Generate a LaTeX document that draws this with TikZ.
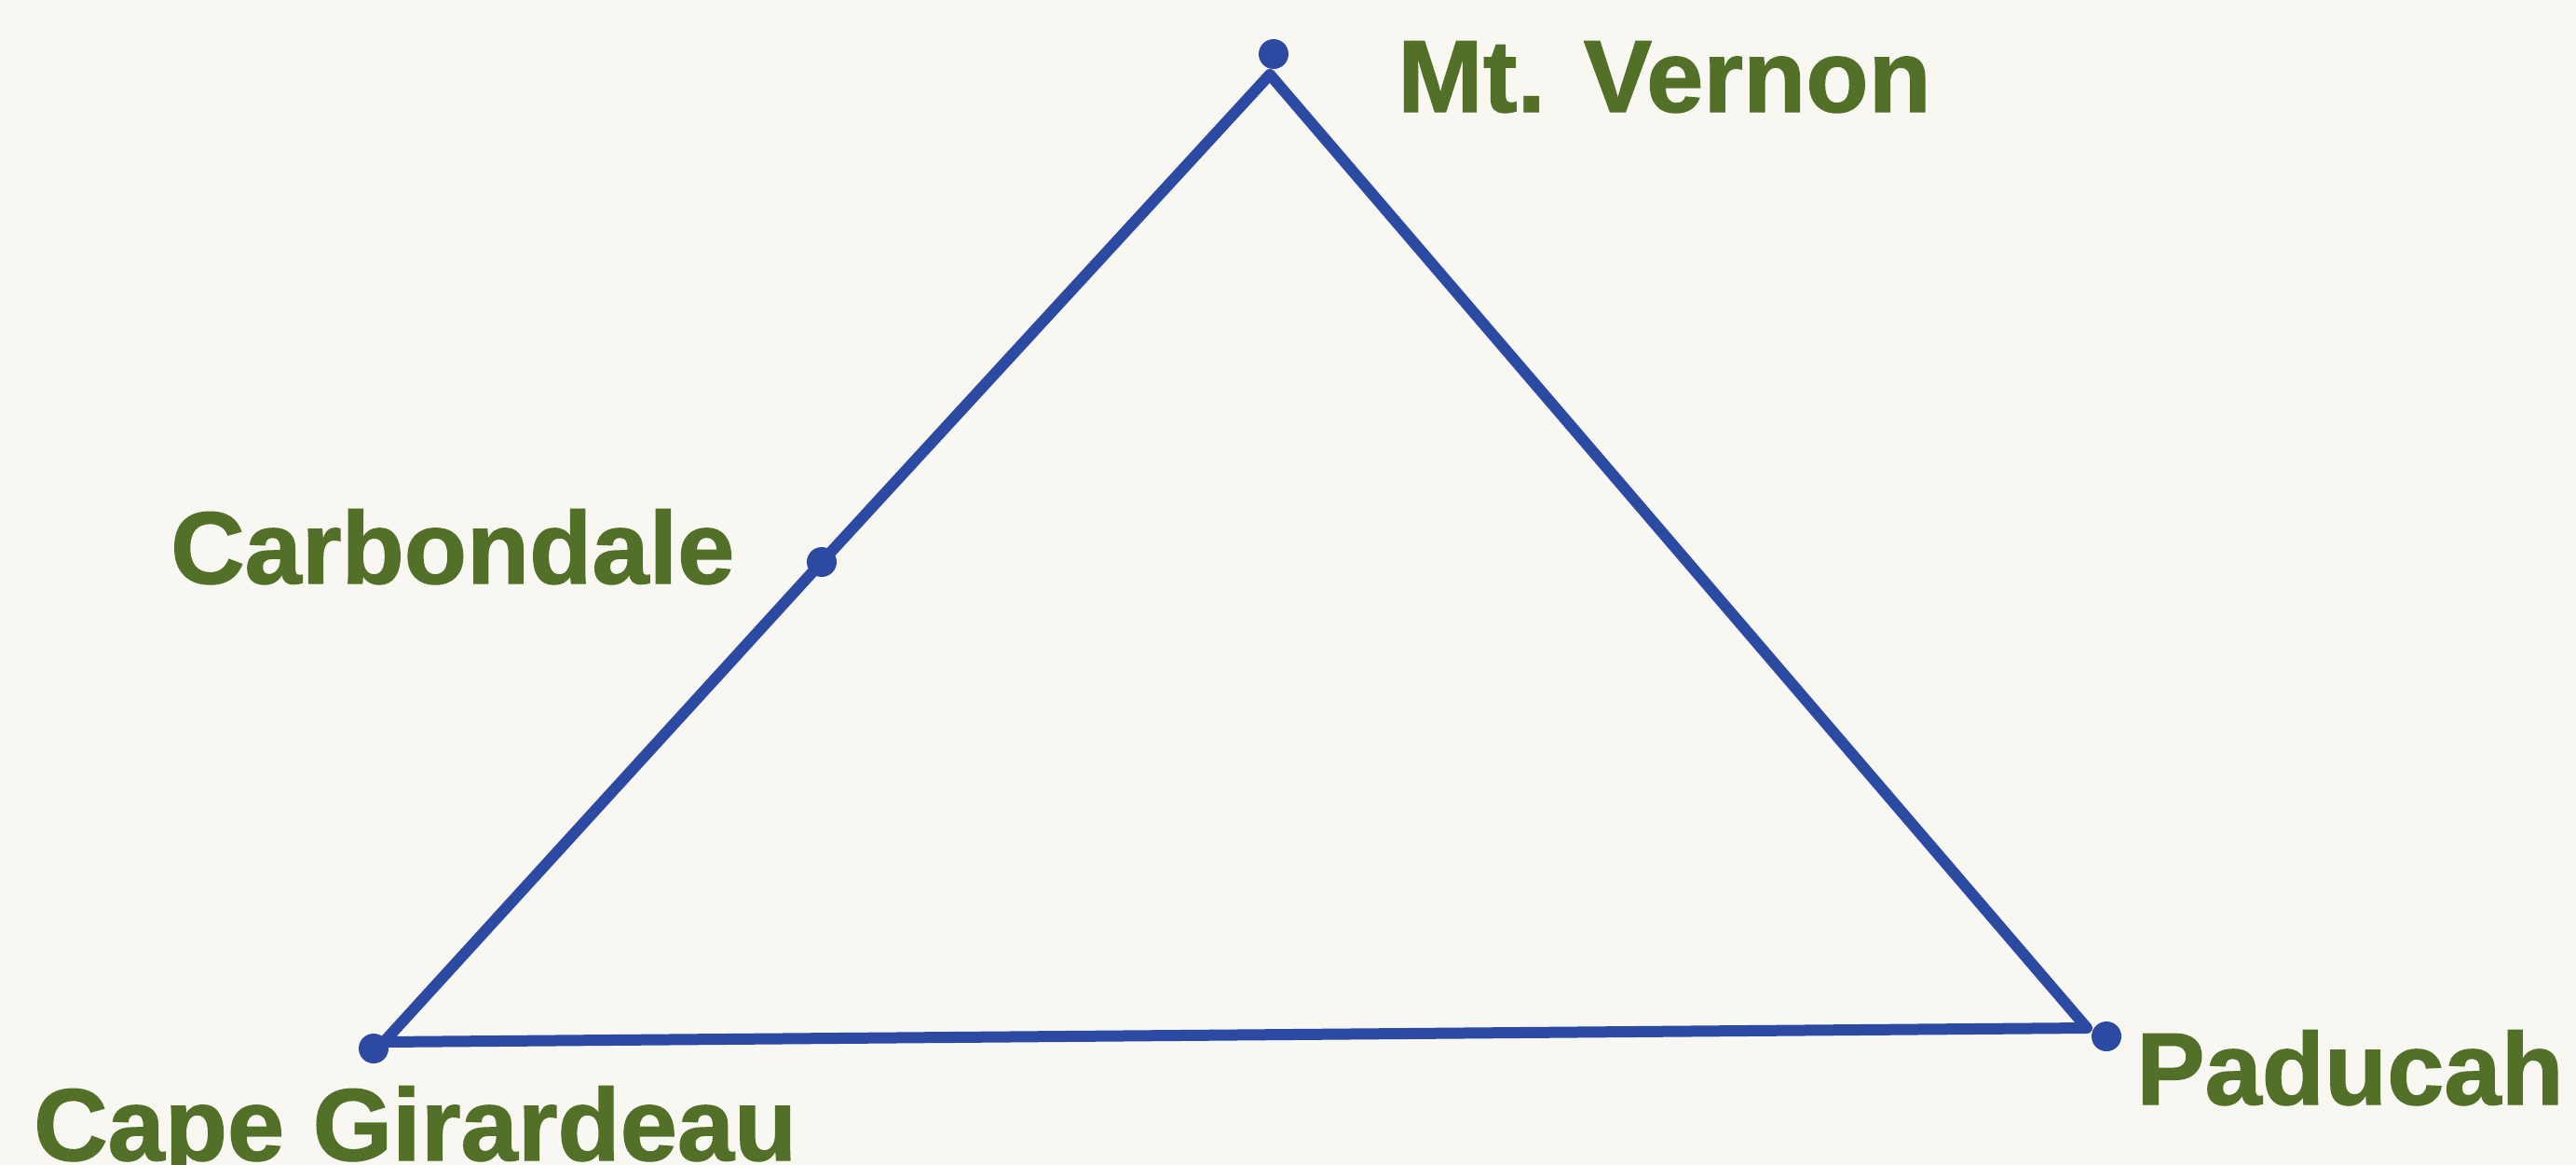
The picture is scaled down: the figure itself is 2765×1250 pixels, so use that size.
\documentclass[tikz,border=0pt]{standalone}
\usepackage{fontspec}
\setmainfont{Liberation Sans}
\newfontfamily\lblfont[FakeBold=1.2]{Liberation Sans Bold}
\definecolor{bg}{RGB}{248,247,242}
\definecolor{lineblue}{RGB}{45,74,162}
\definecolor{labelgreen}{RGB}{82,112,40}
\begin{document}
\begin{tikzpicture}[x=1pt,y=-1pt,
  city/.style={circle,fill=lineblue,inner sep=0pt,minimum size=32pt},
  road/.style={draw=lineblue,line width=12pt,line join=round,line cap=round},
  lbl/.style={text=labelgreen,font=\fontsize{110}{110}\lblfont,inner sep=0pt,anchor=base west}]
\fill[bg] (0,0) rectangle (2765,1250);
\useasboundingbox (0,0) rectangle (2765,1250);
\coordinate (mvc) at (1363,80);
\coordinate (pdc) at (2240,1103);
\coordinate (cgc) at (412,1118);
\node[city] (mv) at (1367,58) {};
\node[city] (cb) at (882,603) {};
\node[city] (cg) at (401,1125) {};
\node[city] (pd) at (2261,1112) {};
\draw[road] (cgc) -- (cb.center) -- (mvc) -- (pdc) -- cycle;
\node[lbl] (lmv) at (1500,120) {Mt. Vernon};
\node[lbl] (lcb) at (183,626) {Carbondale};
\node[lbl] (lcg) at (36,1245) {Cape Girardeau};
\node[lbl] (lpd) at (2293,1185) {Paducah};
\end{tikzpicture}
\end{document}
